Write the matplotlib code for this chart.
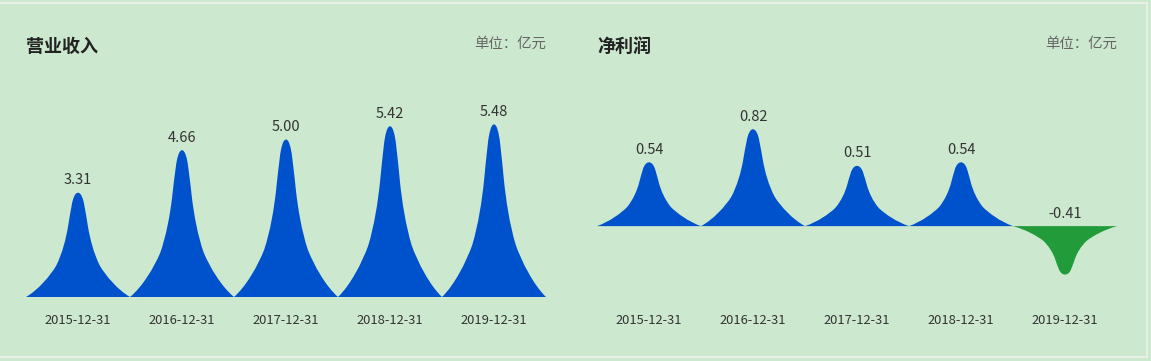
import matplotlib.pyplot as plt
from matplotlib.path import Path
from matplotlib.patches import PathPatch
from matplotlib.lines import Line2D

plt.rcParams['font.family'] = ['Noto Sans CJK SC', 'DejaVu Sans']

# 数据
years = ['2015-12-31', '2016-12-31', '2017-12-31', '2018-12-31', '2019-12-31']
revenue = [3.31, 4.66, 5.00, 5.42, 5.48]
profit = [0.54, 0.82, 0.51, 0.54, -0.41]

bg = '#cce8cf'
blue = '#0052cc'
green = '#229b3b'

# 右半边轮廓 (半宽, 高度比例)，三段贝塞尔，左右对称
half = [(0.5, 0), (0.38, 0.07), (0.27, 0.2), (0.21, 0.3),
        (0.15, 0.42), (0.115, 0.56), (0.095, 0.68),
        (0.072, 0.8), (0.058, 1.0), (0.0, 1.0)]


def spike(ax, x, h, color):
    right = [(x + w, s * h) for w, s in half]
    left = [(x - w, s * h) for w, s in reversed(half)][1:]
    verts = right + left + [right[0]]
    n = len(half) - 1
    codes = [Path.MOVETO] + [Path.CURVE4] * (2 * n) + [Path.CLOSEPOLY]
    ax.add_patch(PathPatch(Path(verts, codes), facecolor=color, edgecolor='none'))


def panel(ax, values, ylim, title):
    ax.set_facecolor(bg)
    for i, v in enumerate(values):
        spike(ax, i, v, blue if v >= 0 else green)
        ax.annotate(f'{v:.2f}', (i, max(v, 0)), xytext=(0, 4), textcoords='offset points',
                    ha='center', va='bottom', fontsize=10.5, color='#333333')
    ax.set_xlim(-0.5, len(values) - 0.5)
    ax.set_ylim(*ylim)
    ax.set_xticks(range(len(values)))
    ax.set_xticklabels(years, fontsize=9.3, color='#333333')
    ax.tick_params(axis='x', length=0, pad=12)
    ax.set_yticks([])
    for s in ax.spines.values():
        s.set_visible(False)
    ax.text(0, 1.0 + 62 / 189, title, transform=ax.transAxes, fontsize=13,
            fontweight='bold', color='#222222', va='center', ha='left')
    ax.text(1, 1.0 + 64 / 189, '单位：亿元', transform=ax.transAxes, fontsize=10.4,
            color='#666666', va='center', ha='right')


fig = plt.figure(figsize=(11.51, 3.61), dpi=100, facecolor=bg)
W, H = 1151, 361
ax1 = fig.add_axes([26 / W, (H - 297) / H, 520 / W, 189 / H])
ax2 = fig.add_axes([597 / W, (H - 297) / H, 520 / W, 189 / H])

panel(ax1, revenue, (0, 6), '营业收入')
panel(ax2, profit, (-0.6, 1.0), '净利润')

# 外框
fig.add_artist(Line2D([0, 1147 / W], [1 - 3 / H, 1 - 3 / H], color='#e6f0e6', lw=1.5))
fig.add_artist(Line2D([1147 / W, 1147 / W], [1 - 3 / H, 1 - 357 / H], color='#e6f0e6', lw=1.5))
fig.add_artist(Line2D([0, 1147 / W], [1 - 357 / H, 1 - 357 / H], color='#e6f0e6', lw=1.5))

fig.savefig('out.png', dpi=100, facecolor=bg)
